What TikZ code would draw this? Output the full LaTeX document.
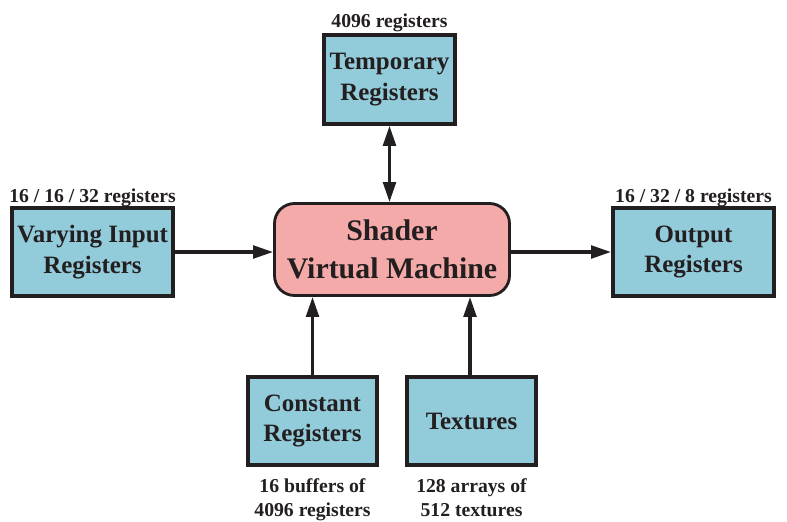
\documentclass[tikz,border=0pt]{standalone}
\usepackage{fontspec}
\setmainfont{Liberation Serif}
\usetikzlibrary{positioning, arrows.meta}

\definecolor{regblue}{RGB}{146,203,218}
\definecolor{vmpink}{RGB}{244,170,168}
\definecolor{ink}{RGB}{35,31,32}

\tikzset{
    regbox/.style={draw=ink, fill=regblue, line width=3.3pt, text=ink, align=center,
        font=\fontsize{21.3}{26.4}\selectfont\bfseries, inner sep=0pt,
        minimum width=3.93cm, minimum height=2.66cm},
    vmbox/.style={draw=ink, fill=vmpink, line width=2.4pt, rounded corners=0.6cm, text=ink,
        align=center, font=\fontsize{25.5}{33}\selectfont\bfseries, inner sep=0pt,
        minimum width=7.05cm, minimum height=2.76cm},
    note/.style={text=ink, align=center, font=\fontsize{16.8}{20.4}\selectfont\bfseries, inner sep=0pt},
    link/.style={draw=ink, line width=2.8pt, -{Triangle[length=0.6cm, width=0.38cm]}},
}

\begin{document}
\begin{tikzpicture}[x=0.03cm, y=-0.03cm]
            \useasboundingbox (0, 0) rectangle (787, 521);

            \node [vmbox] (vm) at (392, 249.5) {Shader\\Virtual Machine};

            \node [regbox] (tmp) at (389.5, 79.5) {Temporary\\Registers};
            \node [regbox, minimum width=4.83cm, minimum height=2.64cm] (vary) at (92.5, 252) {Varying Input\\Registers};
            \node [regbox, minimum width=4.83cm, minimum height=2.64cm] (out) at (693.5, 252) {Output\\Registers};
            \node [regbox, minimum width=3.87cm, minimum height=2.64cm] (cst) at (312.5, 421) {Constant\\Registers};
            \node [regbox, minimum width=3.87cm, minimum height=2.64cm] (tex) at (471.5, 421) {Textures};

            \node [note, above=0.03cm of tmp] (tmpnote) {4096 registers};
            \node [note, above=-0.02cm of vary] (varynote) {16 / 16 / 32 registers};
            \node [note, above=-0.02cm of out] (outnote) {16 / 32 / 8 registers};
            \node [note, below=0.34cm of cst] (cstnote) {16 buffers of\\4096 registers};
            \node [note, below=0.34cm of tex] (texnote) {128 arrays of\\512 textures};

            \draw [link, {Triangle[length=0.6cm, width=0.38cm]}-{Triangle[length=0.6cm, width=0.38cm]}] (tmp) -- (vm.north -| tmp);
            \draw [link] (vary) -- (vm.west |- vary);
            \draw [link] (vm.east |- out) -- (out);
            \draw [link] (cst) -- (vm.south -| cst);
            \draw [link] (tex.north -| 470, 0) -- (vm.south -| 470, 0);
        \end{tikzpicture}
\end{document}
